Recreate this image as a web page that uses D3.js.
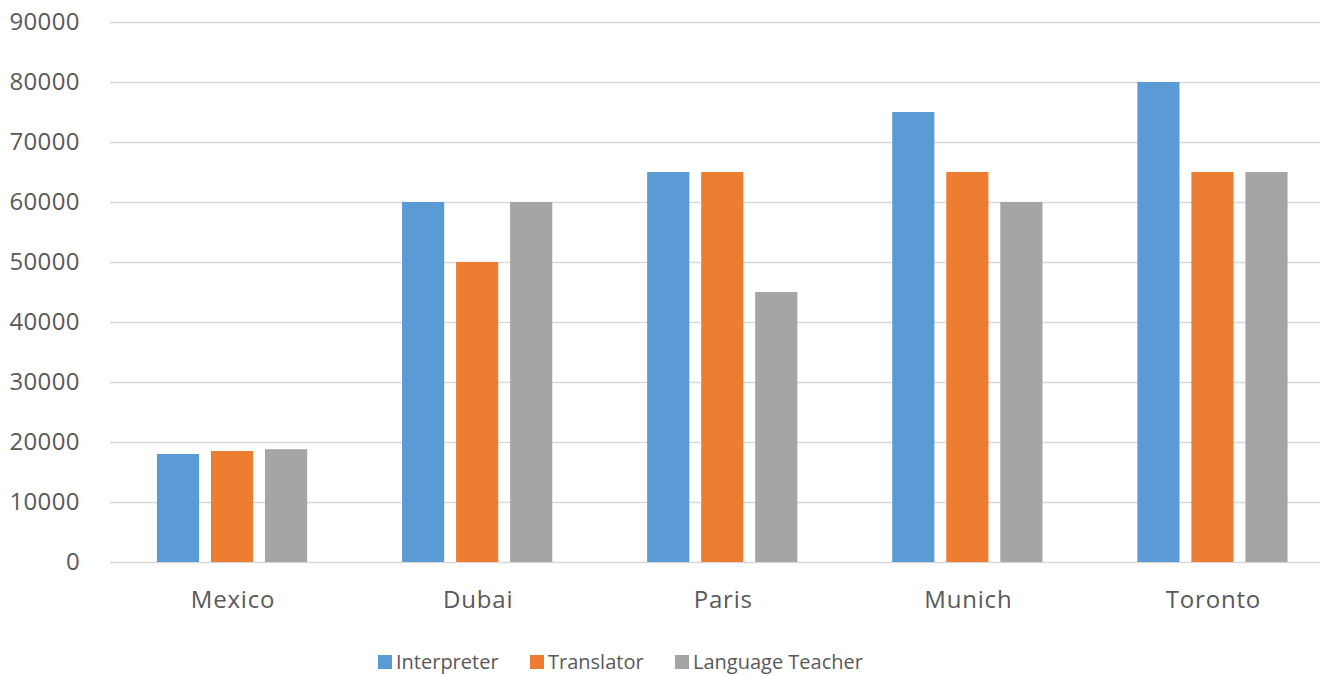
<!DOCTYPE html>
<html>
<head>
<meta charset="utf-8">
<script src="https://cdn.jsdelivr.net/npm/d3@7"></script>
<style>
  body { margin: 0; background: #fff; }
  text { font-family: "Open Sans", sans-serif; fill: #595959; }
</style>
</head>
<body>
<div class="bar__container"></div>
<script>
const cities = ["Mexico", "Dubai", "Paris", "Munich", "Toronto"];
const seriesNames = ["Interpreter", "Translator", "Language Teacher"];
const interpreter = [18000, 60000, 65000, 75000, 80000];
const translator = [18500, 50000, 65000, 65000, 65000];
const teacher = [18800, 60000, 45000, 60000, 65000];
const yTicks = [0, 10000, 20000, 30000, 40000, 50000, 60000, 70000, 80000, 90000];
const colors = ["#5b9bd5", "#ed7d31", "#a5a5a5"];

const width = 1329;
const height = 676;

const values = [interpreter, translator, teacher];
const rows = cities.map((c, i) => ({
  city: c,
  vals: seriesNames.map((s, j) => ({ name: s, value: values[j][i] }))
}));

const svg = d3
  .select(".bar__container")
  .append("svg")
  .attr("width", width)
  .attr("height", height);

const yScale = d3.scaleLinear().domain([0, 90000]).range([562, 22]);

const x0 = d3.scaleBand().domain(cities).range([109.5, 1335]);

const x1 = d3
  .scaleBand()
  .domain(seriesNames)
  .range([0, x0.bandwidth()])
  .paddingInner(0.22)
  .paddingOuter(0.878);

const color = d3.scaleOrdinal().domain(seriesNames).range(colors);

// gridlines + y labels
const yAxis = svg
  .append("g")
  .attr("transform", "translate(110,0)")
  .call(d3.axisLeft(yScale).tickValues(yTicks).tickSize(-1210).tickPadding(30).tickFormat(d3.format("d")));

yAxis.select(".domain").remove();
yAxis.selectAll("line").attr("stroke", "#d9d9d9").attr("stroke-width", 1.5);
yAxis.selectAll("text").attr("font-size", 24).attr("letter-spacing", 0.4).attr("fill", "#595959");

// bars
const groups = svg
  .append("g")
  .selectAll("g")
  .data(rows)
  .enter()
  .append("g")
  .attr("transform", (d) => `translate(${x0(d.city)},0)`);

groups
  .selectAll("rect")
  .data((d) => d.vals)
  .enter()
  .append("rect")
  .attr("x", (d) => x1(d.name))
  .attr("width", x1.bandwidth())
  .attr("y", (d) => yScale(d.value))
  .attr("height", (d) => yScale(0) - yScale(d.value))
  .attr("fill", (d) => color(d.name));

// x labels
const xAxis = svg
  .append("g")
  .attr("transform", `translate(0,${yScale(0)})`)
  .call(d3.axisBottom(x0).tickSize(0).tickPadding(29));

xAxis.select(".domain").remove();
xAxis
  .selectAll("text")
  .attr("font-size", 24)
  .attr("letter-spacing", 0.8)
  .attr("dx", 1)
  .attr("fill", "#595959");

// legend
const legendX = [378, 530, 675];
const legend = svg
  .append("g")
  .selectAll("g")
  .data(seriesNames)
  .enter()
  .append("g")
  .attr("transform", (d, i) => `translate(${legendX[i]},655)`);

legend
  .append("rect")
  .attr("width", 14)
  .attr("height", 14)
  .attr("fill", (d) => color(d));

legend
  .append("text")
  .attr("x", 18)
  .attr("y", 14)
  .attr("font-size", 20)
  .text((d) => d);
</script>
</body>
</html>
